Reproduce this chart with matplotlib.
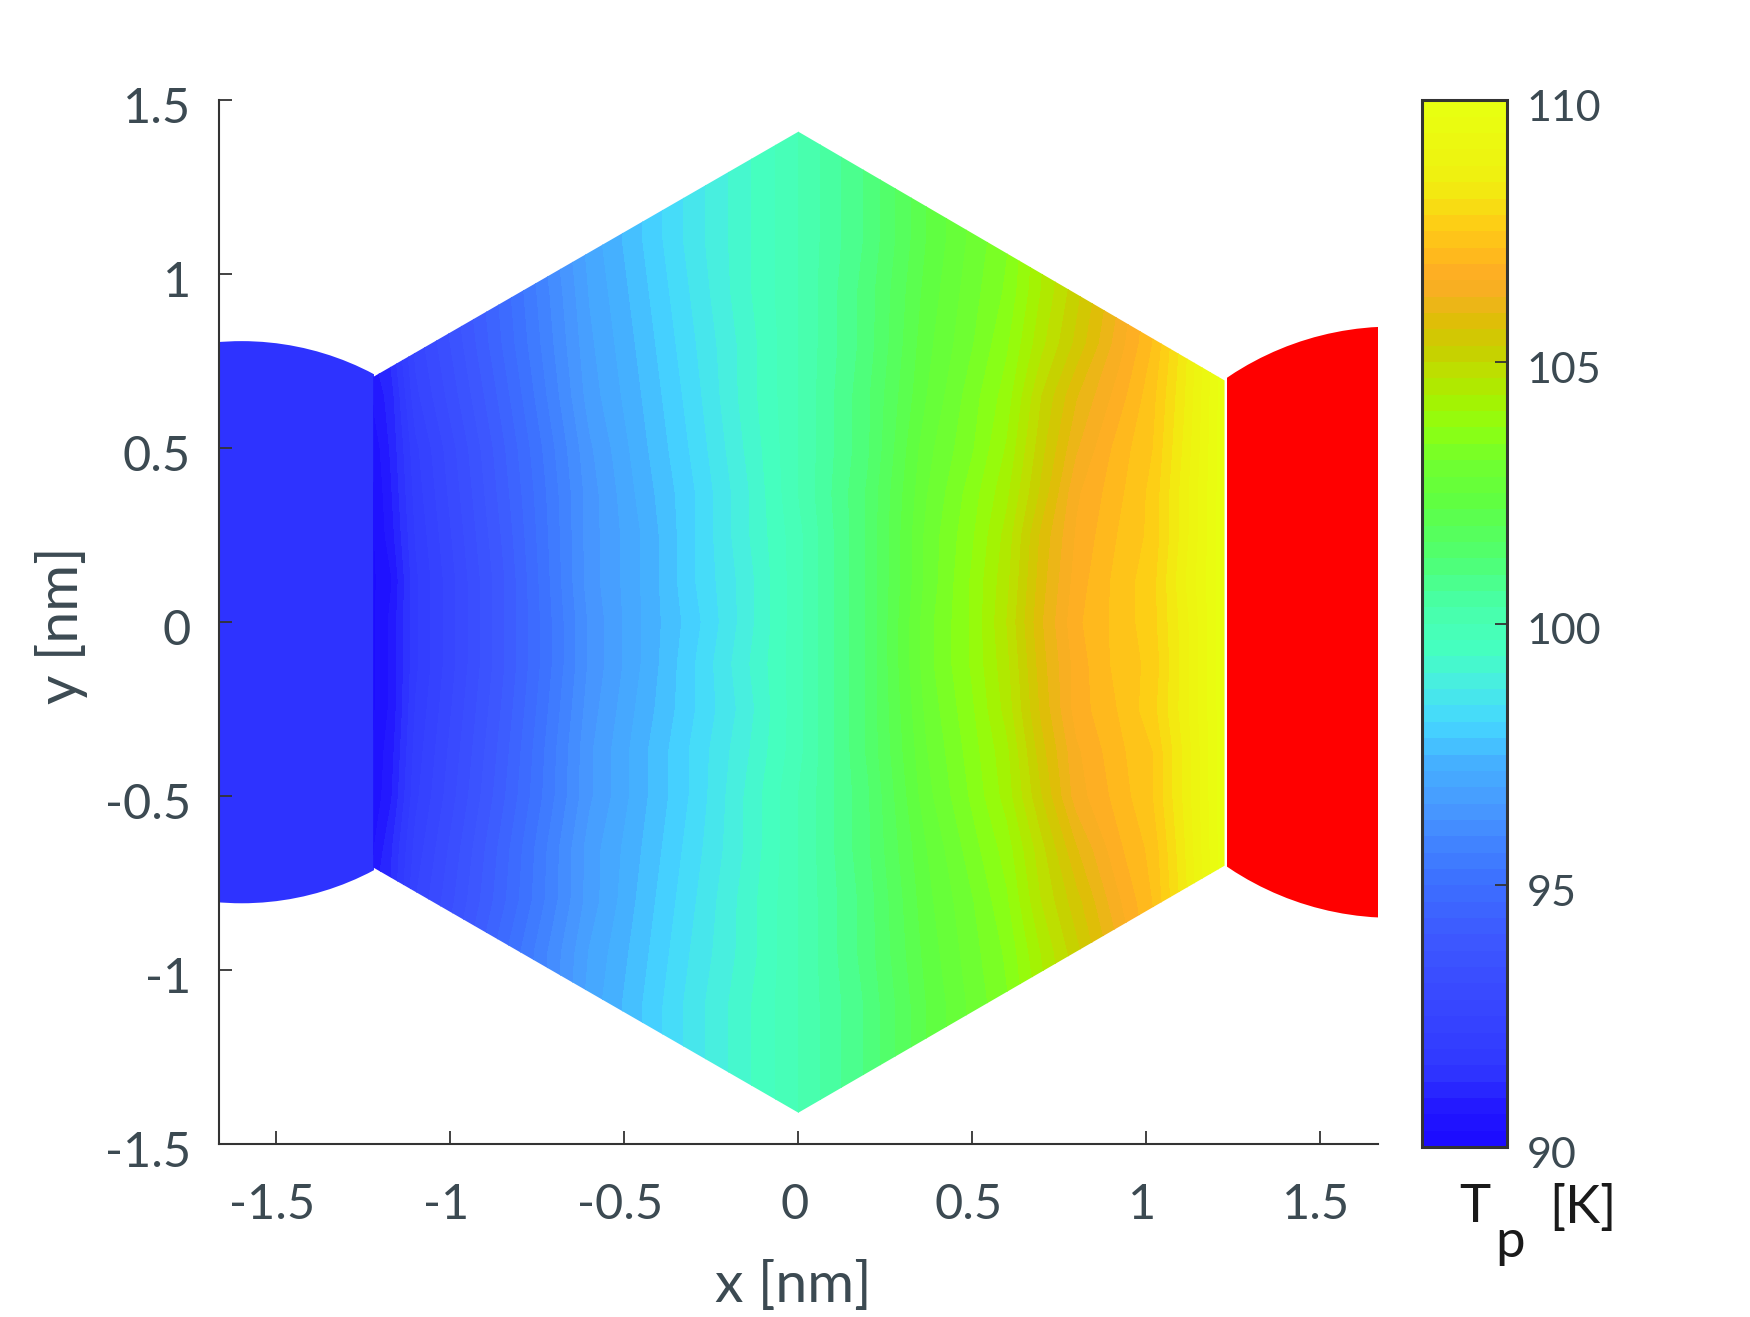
import numpy as np
import matplotlib
matplotlib.use("Agg")
import matplotlib.pyplot as plt
from matplotlib.cm import ScalarMappable
from matplotlib.colors import LinearSegmentedColormap, Normalize
from matplotlib.patches import Circle, Polygon, Rectangle
from matplotlib.transforms import ScaledTranslation

W, H = 1750, 1317
plt.rcParams['font.family'] = ['Lato', 'DejaVu Sans']

# hexagon outline and the two round leads, in nm
hex_x = [0, 1.225, 1.225, 0, -1.222, -1.222]
hex_y = [1.41, 0.695, -0.70, -1.41, -0.705, 0.705]
left_lead_T = 91.3
right_lead_color = '#ff0000'

# temperature, rows are y, columns are x
grid_x = [-1.23, -1.17, -1.1, -0.85, -0.6, -0.45, -0.3, -0.15, 0, 0.2, 0.37, 0.5, 0.6, 0.7, 0.8, 0.92, 1.02, 1.11, 1.23]
grid_y = [-1.42, -1.1, -0.95, -0.8, -0.65, -0.5, -0.37, -0.25, -0.12, 0, 0.12, 0.25, 0.37, 0.5, 0.65, 0.8, 0.95, 1.1, 1.42]
grid_T = [
    [91.3, 91.9, 92.9, 95.0, 97.0, 97.8, 98.6, 99.3, 100.0, 101.0, 102.2, 102.9, 103.4, 104.3, 105.1, 106.0, 107.0, 108.0, 109.5],
    [91.3, 91.8, 92.9, 94.9, 97.0, 97.8, 98.6, 99.3, 100.0, 101.0, 102.2, 102.9, 103.4, 104.2, 105.1, 106.0, 107.0, 108.0, 109.5],
    [91.2, 91.6, 92.7, 94.9, 96.9, 97.7, 98.5, 99.2, 100.0, 101.1, 102.3, 103.0, 103.5, 104.4, 105.2, 106.2, 107.1, 108.2, 109.8],
    [90.8, 91.3, 92.5, 94.6, 96.7, 97.6, 98.4, 99.2, 100.0, 101.1, 102.4, 103.1, 103.7, 104.7, 105.5, 106.5, 107.2, 108.3, 110.0],
    [90.5, 91.2, 92.3, 94.5, 96.7, 97.5, 98.3, 99.1, 100.0, 101.2, 102.5, 103.3, 103.9, 104.9, 105.9, 106.8, 107.3, 108.4, 110.0],
    [90.3, 90.9, 92.1, 94.3, 96.5, 97.4, 98.2, 99.1, 100.0, 101.2, 102.7, 103.5, 104.2, 105.3, 106.4, 107.0, 107.5, 108.5, 110.0],
    [90.3, 90.8, 92.0, 94.2, 96.5, 97.4, 98.2, 99.0, 99.9, 101.3, 102.8, 103.6, 104.3, 105.5, 106.5, 107.1, 107.5, 108.5, 110.0],
    [90.2, 90.7, 91.9, 94.1, 96.4, 97.3, 98.1, 98.9, 99.9, 101.3, 102.9, 103.7, 104.5, 105.7, 106.7, 107.2, 107.7, 108.6, 110.0],
    [90.2, 90.7, 91.8, 94.0, 96.3, 97.2, 98.1, 99.0, 99.9, 101.3, 103.0, 103.8, 104.6, 105.8, 106.7, 107.3, 107.6, 108.6, 110.0],
    [90.2, 90.7, 91.8, 94.0, 96.3, 97.2, 98.0, 98.9, 99.9, 101.3, 103.0, 103.8, 104.7, 105.9, 106.8, 107.3, 107.7, 108.6, 110.0],
    [90.2, 90.6, 91.8, 94.0, 96.4, 97.2, 98.1, 98.9, 99.9, 101.3, 102.9, 103.8, 104.6, 105.8, 106.7, 107.3, 107.7, 108.7, 110.0],
    [90.2, 90.8, 91.9, 94.1, 96.4, 97.2, 98.1, 99.0, 99.9, 101.3, 102.9, 103.7, 104.5, 105.7, 106.6, 107.2, 107.6, 108.6, 110.0],
    [90.2, 90.9, 92.0, 94.2, 96.4, 97.3, 98.1, 99.0, 100.0, 101.3, 102.8, 103.6, 104.3, 105.4, 106.5, 107.1, 107.6, 108.6, 110.0],
    [90.3, 91.0, 92.1, 94.3, 96.5, 97.4, 98.2, 99.1, 100.0, 101.2, 102.7, 103.4, 104.1, 105.2, 106.2, 107.0, 107.5, 108.5, 110.0],
    [90.6, 91.1, 92.4, 94.5, 96.7, 97.5, 98.3, 99.2, 100.0, 101.2, 102.5, 103.3, 103.9, 105.0, 105.9, 106.7, 107.4, 108.4, 110.0],
    [90.9, 91.4, 92.6, 94.7, 96.8, 97.6, 98.4, 99.2, 100.0, 101.1, 102.4, 103.1, 103.7, 104.6, 105.4, 106.4, 107.2, 108.3, 110.0],
    [91.1, 91.7, 92.8, 94.8, 96.9, 97.7, 98.5, 99.3, 100.0, 101.1, 102.3, 103.0, 103.5, 104.4, 105.2, 106.2, 107.1, 108.1, 109.8],
    [91.3, 91.8, 92.9, 95.0, 97.0, 97.8, 98.6, 99.3, 100.0, 101.0, 102.2, 102.9, 103.4, 104.3, 105.1, 106.0, 107.0, 108.0, 109.5],
    [91.3, 91.9, 92.9, 95.0, 97.0, 97.8, 98.6, 99.3, 100.0, 101.0, 102.2, 102.9, 103.4, 104.3, 105.1, 106.0, 107.0, 108.0, 109.5],
]

# colorbar stops, temperature and colour
cmap_T = [90, 90.6, 91.4, 92.7, 93.9, 95, 95.6, 96.4, 97.3, 98.1, 98.9, 99.45, 100, 100.5, 101.3, 102.4, 103.1, 103.8,
          104.4, 105, 105.3, 105.8, 106.4, 106.75, 107.1, 107.8, 108.6, 110]
cmap_colors = ['#1c0cff', '#2218ff', '#3038ff', '#3848ff', '#3d58ff', '#3d70ff', '#4080ff', '#4898ff', '#45b0ff',
               '#45d8ff', '#48efdf', '#45ffc0', '#48ffb5', '#48ffa0', '#50ff70', '#60ff40', '#70ff30', '#8fff10',
               '#a8f000', '#c0dc00', '#c8d000', '#dcc005', '#f5b020', '#feac25', '#ffb81e', '#fdd015', '#f0f010',
               '#e8ff10']

x_ticks = [-1.5, -1, -0.5, 0, 0.5, 1, 1.5]
y_ticks = [-1.5, -1, -0.5, 0, 0.5, 1, 1.5]
tick_text = ['-1.5', '-1', '-0.5', '0', '0.5', '1', '1.5']
cbar_ticks = [90, 95, 100, 105, 110]

TEXT = '#3c4a52'
LINE = '#333333'
FS = 35

norm = Normalize(90, 110)
stops = [(t - 90) / 20 for t in cmap_T]
cmap = LinearSegmentedColormap.from_list('tp', list(zip(stops, cmap_colors)), N=64)


def box(left, top, right, bottom):
    return [left / W, 1 - bottom / H, (right - left) / W, (bottom - top) / H]


fig = plt.figure(figsize=(W / 100, H / 100), dpi=100)
ax = fig.add_axes(box(218.7, 100.4, 1378, 1144))
ax.set_xlim(-1.666, 1.666)
ax.set_ylim(-1.5, 1.5)

# leads
left = Circle((-1.6, 0), 0.808, color=cmap(norm(left_lead_T)), lw=0, zorder=1)
ax.add_patch(left)
left.set_clip_path(Rectangle((-1.666, -1), 0.446, 2, transform=ax.transData))
right = Circle((1.71, 0), 0.85, color=right_lead_color, lw=0, zorder=1)
ax.add_patch(right)
right.set_clip_path(Rectangle((1.232, -1), 0.434, 2, transform=ax.transData))

# hexagon
hexagon = Polygon(np.column_stack([hex_x, hex_y]), closed=True, fc='none', ec='none', transform=ax.transData)
ax.add_patch(hexagon)
cs = ax.contourf(grid_x, grid_y, grid_T, levels=np.linspace(90, 110, 65), cmap=cmap, norm=norm, zorder=2, antialiased=False)
cs.set_clip_path(hexagon)

for side in ['top', 'right']:
    ax.spines[side].set_visible(False)
for side in ['left', 'bottom']:
    ax.spines[side].set_linewidth(1.5)
    ax.spines[side].set_color(LINE)
    ax.spines[side].set_zorder(5)

ax.set_xticks(x_ticks)
ax.set_xticklabels(tick_text)
ax.set_yticks(y_ticks)
ax.set_yticklabels(tick_text)
ax.tick_params(axis='both', direction='in', length=9.5, width=1.3, color=LINE, labelcolor=TEXT, labelsize=FS)
ax.tick_params(axis='x', pad=28)
ax.tick_params(axis='y', pad=20)

# the labels sit a little off their ticks in the original
for lbl in ax.get_xticklabels():
    lbl.set_transform(lbl.get_transform() + ScaledTranslation(-4 / 100, 0, fig.dpi_scale_trans))
for lbl in ax.get_yticklabels():
    lbl.set_transform(lbl.get_transform() + ScaledTranslation(0, -5 / 100, fig.dpi_scale_trans))

fig.text(793 / W, 1 - 1287 / H, 'x [nm]', color=TEXT, fontsize=41, ha='center', va='center')
fig.text(62 / W, 1 - 625 / H, 'y [nm]', color=TEXT, fontsize=41, ha='center', va='center', rotation=90)

# colorbar
cax = fig.add_axes(box(1422, 100.4, 1507, 1147))
cb = fig.colorbar(ScalarMappable(norm=norm, cmap=cmap), cax=cax, ticks=cbar_ticks)
cb.outline.set_linewidth(2.2)
cb.outline.set_edgecolor(LINE)
cb.ax.tick_params(direction='in', length=9, width=1.3, color=LINE, labelcolor=TEXT, labelsize=31, pad=14)
for lbl in cb.ax.get_yticklabels():
    lbl.set_transform(lbl.get_transform() + ScaledTranslation(0, -5 / 100, fig.dpi_scale_trans))

fig.text(1475 / W, 1 - 1208 / H, 'T', color='#1a1a1a', fontsize=38, ha='center', va='center')
fig.text(1510 / W, 1 - 1243 / H, 'p', color='#1a1a1a', fontsize=38, ha='center', va='center')
fig.text(1583 / W, 1 - 1208 / H, '[K]', color='#1a1a1a', fontsize=38, ha='center', va='center')

fig.savefig('out.png', dpi=100)
